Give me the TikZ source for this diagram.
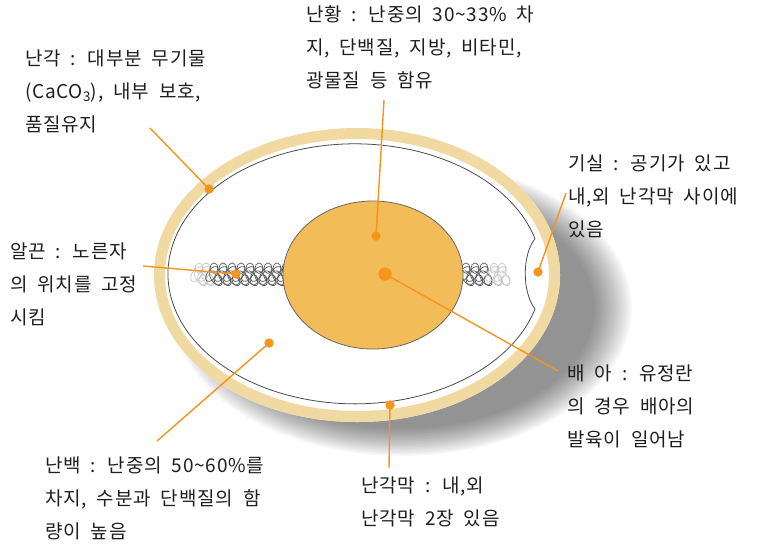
\documentclass[tikz,border=0pt]{standalone}
\usepackage{fontspec}
\setmainfont{Noto Sans CJK KR}[LetterSpace=4,WordSpace=2]
\definecolor{leadc}{RGB}{247,148,29}
\definecolor{shellc}{RGB}{240,218,162}
\definecolor{yolkc}{RGB}{242,188,88}
\definecolor{txtc}{RGB}{30,30,30}
\begin{document}
\begin{tikzpicture}[x=1pt,y=-1pt,
  lbl/.style={anchor=west, align=left, inner sep=0pt, text=txtc,
              font=\fontsize{19}{33}\selectfont},
  dotmark/.style={circle, fill=leadc, inner sep=0pt, minimum size=9pt},
  leader/.style={draw=leadc, line width=1.4pt},
  chal/.style={draw=black!65, line width=0.7pt},
  chalfade/.style={draw=black!22, line width=0.7pt},
  twist/.pic={
    \draw[pic actions, rotate=40] (0,0) ellipse [x radius=7.5, y radius=4];
    \draw[pic actions, rotate=-40] (5,0) ellipse [x radius=7.5, y radius=4];
    \draw[pic actions] (2,-4.5) circle [radius=4];
    \draw[pic actions] (6,4.5) circle [radius=4];}]
\useasboundingbox (0,0) rectangle (759,544);

% soft drop shadow under the egg
\foreach \i in {0,...,19}
  \fill[black, opacity=0.029] (402,308)
    ellipse [x radius={230-2*\i}, y radius={148-1.45*\i}];

% egg body and shell
\fill[white] (357,275) ellipse [x radius=203, y radius=147];
\draw[shellc, line width=11pt] (357,275) ellipse [x radius=197.5, y radius=141.5];

% inner shell membrane with the air cell notch
\draw[black!70, line width=0.8pt]
  (535,309) arc[start angle=15.7, end angle=344.3, x radius=187, y radius=130]
  .. controls (522,255) and (522,292) .. (535,309);

% chalazae: twisted cords of small loops
\foreach \x in {197,204}
  \pic[chalfade, yscale=1.3] at (\x,274) {twist};
\foreach \x in {212,221,...,284}
  \pic[chal, yscale=1.3] at (\x,274) {twist};
\foreach \x in {464,473,482}
  \pic[chal, yscale=1.3] at (\x,274) {twist};
\foreach \x in {492,500}
  \pic[chalfade, yscale=1.3] at (\x,274) {twist};

% yolk
\draw[fill=yolkc, draw=black!60, line width=0.8pt] (373,275) ellipse [x radius=90, y radius=74];

% marker dots
\node[dotmark] (dShell) at (209,189) {};
\node[dotmark] (dYolk) at (376,236) {};
\node[dotmark] (dAir) at (538,272) {};
\node[dotmark] (dChal) at (236,274) {};
\node[dotmark, minimum size=13pt] (dEmb) at (385,274) {};
\node[dotmark] (dAlb) at (269,343) {};
\node[dotmark] (dMemb) at (390,405) {};

% label texts
\node[lbl] (tShell) at (25,91) {난각 : 대부분 무기물\\(CaCO\textsubscript{3}), 내부 보호,\\품질유지};
\node[lbl] (tYolk) at (306,47) {난황 : 난중의 30\textasciitilde33\% 차\\지, 단백질, 지방, 비타민,\\광물질 등 함유};
\node[lbl] (tAir) at (568,196) {기실 : 공기가 있고\\내,외 난각막 사이에\\있음};
\node[lbl] (tChal) at (10,284) {알끈 : 노른자\\의 위치를 고정\\시킴};
\node[lbl] (tEmb) at (567,406) {배 아 : 유정란\\의 경우 배아의\\발육이 일어남};
\node[lbl] (tAlb) at (45,498) {난백 : 난중의 50\textasciitilde60\%를\\차지, 수분과 단백질의 함\\량이 높음};
\node[lbl] (tMemb) at (361,502) {난각막 : 내,외\\난각막 2장 있음};

% leader line ends
\coordinate (eShell) at (150,128);
\coordinate (eYolk) at (384,100);
\coordinate (eAir) at (566,193);
\coordinate (eChal) at (143,266);
\coordinate (eEmb) at (558,371);
\coordinate (eAlb) at (157,441);
\coordinate (eMemb) at (389,468);

% leader lines
\draw[leader] (eShell) -- (dShell.center);
\draw[leader] (eYolk) -- (dYolk.center);
\draw[leader] (eAir) -- (dAir.center);
\draw[leader] (eChal) -- (dChal.center);
\draw[leader] (eEmb) -- (dEmb.center);
\draw[leader] (eAlb) -- (dAlb.center);
\draw[leader] (eMemb) -- (dMemb.center);

% dots drawn over the lines
\foreach \d in {dShell,dYolk,dAir,dChal,dAlb,dMemb}
  \fill[leadc] (\d) circle[radius=4.5];
\fill[leadc] (dEmb) circle[radius=6.5];
\end{tikzpicture}
\end{document}
